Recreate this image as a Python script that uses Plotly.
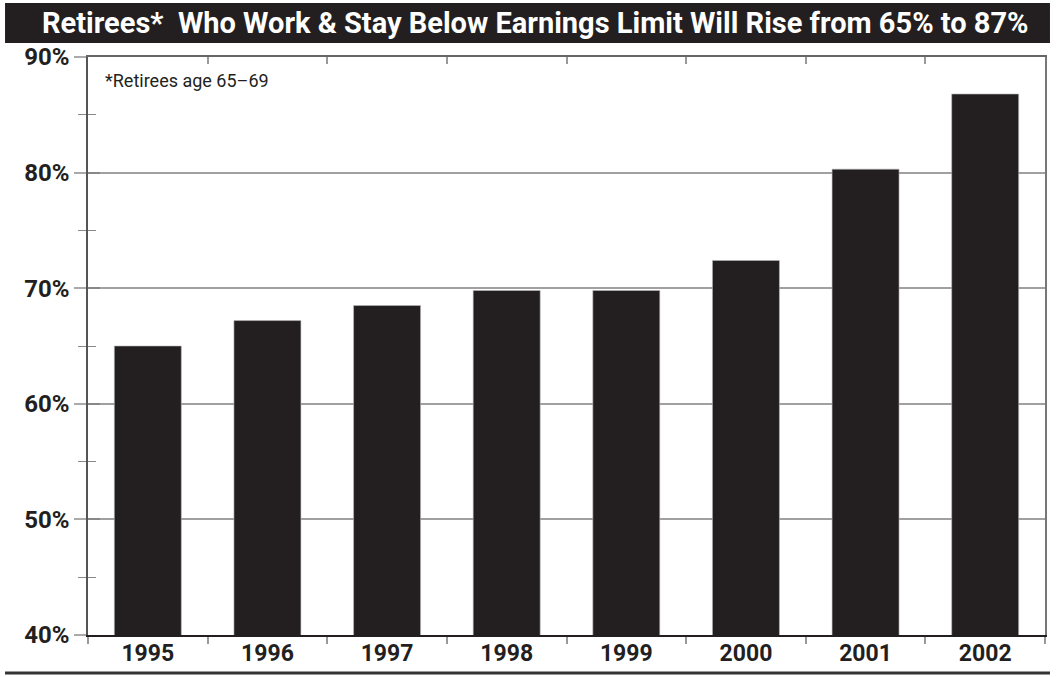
import plotly.graph_objects as go

years = ["1995", "1996", "1997", "1998", "1999", "2000", "2001", "2002"]
share = [65.0, 67.2, 68.5, 69.8, 69.8, 72.4, 80.3, 86.8]
y_ticks = [40, 50, 60, 70, 80, 90]
y_labels = ["40%", "50%", "60%", "70%", "80%", "90%"]
title_text = "Retirees*  Who Work & Stay Below Earnings Limit Will Rise from 65% to 87%"
note_text = "*Retirees age 65–69"

FONT = "Roboto, Liberation Sans, sans-serif"
INK = "#231f20"

fig = go.Figure()
fig.add_trace(go.Bar(x=years, y=share, marker=dict(color=INK, line=dict(color="#bbbbbb", width=0.6)),
                     hoverinfo="x+y"))

fig.update_layout(
    width=1057, height=677,
    margin=dict(l=88, r=12, t=57, b=42, autoexpand=False),
    paper_bgcolor="white", plot_bgcolor="white",
    showlegend=False,
    bargap=0.44,
    font=dict(family=FONT, color=INK),
    xaxis=dict(type="category", categoryarray=years, range=[-0.5, 7.5], automargin=False,
               showline=True, linecolor=INK, linewidth=2, mirror=False,
               ticks="outside", tickson="boundaries", ticklen=7, tickcolor="#999999", tickwidth=1.5,
               ticklabelstandoff=-4,
               tickfont=dict(family=FONT, size=23, color=INK, weight="bold"),
               showgrid=False, zeroline=False, fixedrange=True),
    xaxis2=dict(overlaying="x", type="linear", range=[-0.5, 7.5], anchor="y", automargin=False,
                tickvals=[-0.5 + i for i in range(9)], showticklabels=False,
                ticks="inside", ticklen=7, tickcolor="#999999", tickwidth=1.5,
                showline=True, side="top", linecolor="#666666", linewidth=1.5,
                showgrid=False, zeroline=False),
    yaxis=dict(range=[40, 90], tickvals=y_ticks, ticktext=y_labels, automargin=False,
               showline=True, linecolor="#555555", linewidth=1.5, mirror=False,
               ticks="outside", ticklen=12, tickcolor="#aaaaaa", tickwidth=1.5,
               minor=dict(dtick=5, ticks="outside", ticklen=8, tickcolor="#888888", tickwidth=1.2, showgrid=False),
               tickfont=dict(family=FONT, size=24, color=INK, weight="bold"),
               showgrid=True, gridcolor="#a0a0a0", gridwidth=1.5, zeroline=False, fixedrange=True),
    yaxis2=dict(overlaying="y", range=[40, 90], tickvals=y_ticks, showticklabels=False,
                anchor="x", side="left", automargin=False,
                ticks="inside", ticklen=12, tickcolor="#888888", tickwidth=1.5,
                minor=dict(dtick=5, ticks="inside", ticklen=8, tickcolor="#888888", tickwidth=1.2, showgrid=False),
                showgrid=False, zeroline=False, showline=False),
    yaxis3=dict(overlaying="y", range=[40, 90], anchor="x", side="right", automargin=False,
                showline=True, linecolor="#777777", linewidth=1.5, showticklabels=False,
                ticks="", showgrid=False, zeroline=False),
)

# invisible traces to activate overlay axes
fig.add_trace(go.Scatter(x=[-0.5, 7.5], y=[40, 90], xaxis="x2", yaxis="y2", mode="markers",
                         marker=dict(opacity=0), hoverinfo="skip"))
fig.add_trace(go.Scatter(x=[-0.5, 7.5], y=[40, 90], xaxis="x2", yaxis="y3", mode="markers",
                         marker=dict(opacity=0), hoverinfo="skip"))

# title band and bottom rule
fig.add_shape(type="rect", xref="paper", yref="paper", x0=-0.0867, x1=1.0052, y0=1.0242, y1=1.0934,
              fillcolor=INK, line=dict(width=0), layer="below")
fig.add_shape(type="line", xref="paper", yref="paper", x0=-0.0867, x1=1.0052, y0=-0.0657, y1=-0.0657,
              line=dict(color="#333333", width=3))

fig.add_annotation(text=title_text, xref="paper", yref="paper", x=0.468, y=1.0588,
                   showarrow=False, xanchor="center", yanchor="middle",
                   font=dict(family=FONT, size=29, color="white", weight="bold"))
fig.add_annotation(text=note_text, xref="paper", yref="paper", x=0.0157, y=0.960,
                   showarrow=False, xanchor="left", yanchor="middle",
                   font=dict(family=FONT, size=18, color=INK))

fig.write_html("out.html")
